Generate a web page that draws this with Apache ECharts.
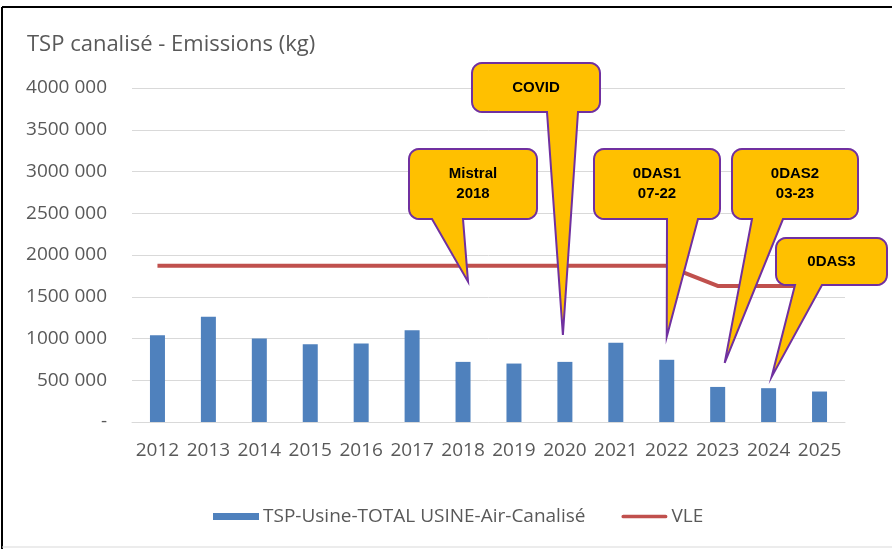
<!DOCTYPE html>
<html>
<head>
<meta charset="utf-8">
<script src="https://cdn.jsdelivr.net/npm/echarts@6/dist/echarts.min.js"></script>
<style>
  html, body { margin: 0; padding: 0; background: #fff; }
  #chart { width: 892px; height: 549px; }
</style>
</head>
<body>
<div id="chart"></div>
<script>
const years = ['2012', '2013', '2014', '2015', '2016', '2017', '2018', '2019', '2020', '2021', '2022', '2023', '2024', '2025']
const emissions = [1040000, 1260000, 1000000, 930000, 940000, 1100000, 720000, 700000, 720000, 950000, 745000, 420000, 405000, 365000]
const vle = [1870000, 1870000, 1870000, 1870000, 1870000, 1870000, 1870000, 1870000, 1870000, 1870000, 1870000, 1630000, 1630000, 1630000]
const yTicks = [0, 500000, 1000000, 1500000, 2000000, 2500000, 3000000, 3500000, 4000000]

// callout texts and the point (year, value) each one points at
const calloutLabels = ['Mistral\n2018', 'COVID', '0DAS1\n07-22', '0DAS2\n03-23', '0DAS3']
const calloutYears = ['2018', '2020', '2022', '2023', '2024']
const calloutValues = [1680000, 1044000, 1020000, 708000, 540000]

// box layout in pixels (x, y, w, h), pointer base on bottom edge, tip nudge
const calloutBoxes = [
  { x: 409, y: 149, w: 128, h: 70, b1: 432, b2: 463, dx: 5 },
  { x: 472, y: 63, w: 128, h: 49, b1: 547, b2: 578, dx: -2 },
  { x: 594, y: 149, w: 126, h: 70, b1: 667, b2: 698, dx: 0 },
  { x: 732, y: 149, w: 126, h: 70, b1: 752, b2: 783, dx: 7 },
  { x: 776, y: 238, w: 111, h: 47, b1: 795, b2: 822, dx: 3 }
]

const gray = '#595959'
const font = 'Open Sans'
const chart = echarts.init(document.getElementById('chart'))

function fmt(v) {
  if (v === 0) return '-'
  const rest = String(v % 1000).padStart(3, '0')
  return Math.floor(v / 1000) + ' ' + rest
}

function arc(pts, cx, cy, r, a0, a1) {
  const n = 6
  for (let i = 0; i <= n; i++) {
    const a = (a0 + (a1 - a0) * i / n) * Math.PI / 180
    pts.push([cx + r * Math.cos(a), cy + r * Math.sin(a)])
  }
}

function calloutPoints(b, tip) {
  const r = 10
  const pts = []
  arc(pts, b.x + r, b.y + r, r, 180, 270)
  arc(pts, b.x + b.w - r, b.y + r, r, 270, 360)
  arc(pts, b.x + b.w - r, b.y + b.h - r, r, 0, 90)
  pts.push([b.b2, b.y + b.h], tip, [b.b1, b.y + b.h])
  arc(pts, b.x + r, b.y + b.h - r, r, 90, 180)
  return pts
}

chart.setOption({
  animation: false,
  title: {
    text: 'TSP canalisé - Emissions (kg)',
    left: 22,
    top: 29,
    textStyle: { fontFamily: font, fontSize: 22, fontWeight: 'normal', color: gray }
  },
  legend: {
    left: 208,
    top: 502,
    itemWidth: 46,
    itemHeight: 7,
    itemGap: 36,
    textStyle: { fontFamily: font, fontSize: 19, color: gray, padding: [0, 0, 0, -1] },
    data: [
      { name: 'TSP-Usine-TOTAL USINE-Air-Canalisé', icon: 'rect' },
      { name: 'VLE', icon: 'path://M2,0 L48,0 A2,2 0 0 1 48,4 L2,4 A2,2 0 0 1 2,0 Z' }
    ]
  },
  grid: { left: 132, right: 47, top: 88, bottom: 127 },
  xAxis: {
    type: 'category',
    data: years,
    axisTick: { show: false },
    axisLine: { lineStyle: { color: '#d9d9d9', width: 1 } },
    axisLabel: { color: gray, fontFamily: font, fontSize: 19, margin: 19, interval: 0 }
  },
  yAxis: {
    type: 'value',
    min: 0,
    max: yTicks[yTicks.length - 1],
    interval: yTicks[1] - yTicks[0],
    axisLine: { show: false },
    axisTick: { show: false },
    splitLine: { lineStyle: { color: '#d9d9d9', width: 1 } },
    axisLabel: { color: gray, fontFamily: font, fontSize: 19, margin: 25, formatter: fmt }
  },
  series: [
    {
      name: 'TSP-Usine-TOTAL USINE-Air-Canalisé',
      type: 'bar',
      data: emissions,
      barWidth: 15,
      itemStyle: { color: '#4f81bd' }
    },
    {
      name: 'VLE',
      type: 'line',
      data: vle,
      symbol: 'none',
      lineStyle: { color: '#c0504d', width: 4 },
      itemStyle: { color: '#c0504d' }
    }
  ]
})

const graphics = [
  { type: 'line', shape: { x1: 2, y1: 7, x2: 892, y2: 7 }, style: { stroke: '#000', lineWidth: 2 } },
  { type: 'line', shape: { x1: 2, y1: 7, x2: 2, y2: 549 }, style: { stroke: '#000', lineWidth: 2 } },
  { type: 'line', shape: { x1: 2, y1: 547, x2: 892, y2: 547 }, style: { stroke: '#d9d9d9', lineWidth: 1 } }
]
calloutBoxes.forEach((b, i) => {
  const p = chart.convertToPixel({ xAxisIndex: 0, yAxisIndex: 0 }, [calloutYears[i], calloutValues[i]])
  const tip = [p[0] + b.dx, p[1]]
  graphics.push({
    type: 'polygon',
    z: 100,
    shape: { points: calloutPoints(b, tip) },
    style: { fill: '#ffc000', stroke: '#7030a0', lineWidth: 2 }
  })
  graphics.push({
    type: 'text',
    z: 101,
    x: b.x + b.w / 2,
    y: b.y + b.h / 2,
    style: {
      text: calloutLabels[i],
      font: 'bold 15px "Liberation Sans", Arial, sans-serif',
      fill: '#000',
      align: 'center',
      verticalAlign: 'middle',
      textAlign: 'center',
      textVerticalAlign: 'middle',
      lineHeight: 20
    }
  })
})
chart.setOption({ graphic: graphics })
</script>
</body>
</html>
